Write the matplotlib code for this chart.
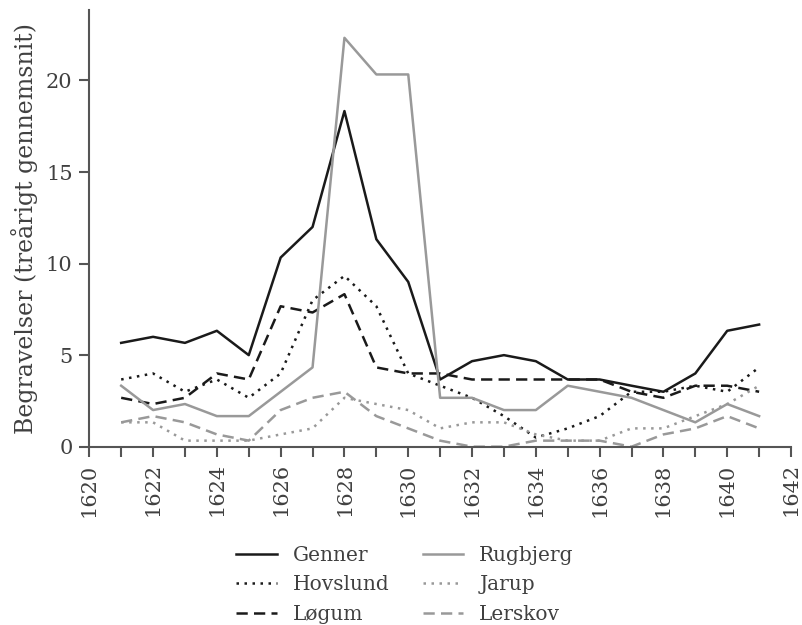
import matplotlib
matplotlib.use("Agg")
import matplotlib.pyplot as plt
from matplotlib.ticker import MultipleLocator

years = list(range(1621, 1642))
genner   = [5.67, 6.0, 5.67, 6.33, 5.0, 10.33, 12.0, 18.33, 11.33, 9.0, 3.67,
            4.67, 5.0, 4.67, 3.67, 3.67, 3.33, 3.0, 4.0, 6.33, 6.67]
hovslund = [3.67, 4.0, 3.0, 3.67, 2.67, 4.0, 8.0, 9.33, 7.67, 4.0, 3.33,
            2.67, 1.67, 0.5, 1.0, 1.67, 3.0, 3.0, 3.33, 3.0, 4.33]
logum    = [2.67, 2.33, 2.67, 4.0, 3.67, 7.67, 7.33, 8.33, 4.33, 4.0, 4.0,
            3.67, 3.67, 3.67, 3.67, 3.67, 3.0, 2.67, 3.33, 3.33, 3.0]
rugbjerg = [3.33, 2.0, 2.33, 1.67, 1.67, 3.0, 4.33, 22.33, 20.33, 20.33, 2.67,
            2.67, 2.0, 2.0, 3.33, 3.0, 2.67, 2.0, 1.33, 2.33, 1.67]
jarup    = [1.33, 1.33, 0.33, 0.33, 0.33, 0.67, 1.0, 2.67, 2.33, 2.0, 1.0,
            1.33, 1.33, 0.67, 0.33, 0.33, 1.0, 1.0, 1.67, 2.33, 3.33]
lerskov  = [1.33, 1.67, 1.33, 0.67, 0.33, 2.0, 2.67, 3.0, 1.67, 1.0, 0.33,
            0.0, 0.0, 0.33, 0.33, 0.33, 0.0, 0.67, 1.0, 1.67, 1.0]

labels = ["Genner", "Hovslund", "Løgum", "Rugbjerg", "Jarup", "Lerskov"]
series = [genner, hovslund, logum, rugbjerg, jarup, lerskov]

plt.rcParams['font.family'] = ['DejaVu Serif']
TXT = '#404040'
BLACK = '#1a1a1a'
GRAY = '#999999'
styles = [
    dict(color=BLACK, linestyle='-'),
    dict(color=BLACK, linestyle=(0, (1, 2.2))),
    dict(color=BLACK, linestyle=(0, (4.5, 2.5))),
    dict(color=GRAY, linestyle='-'),
    dict(color=GRAY, linestyle=(0, (1, 2.2))),
    dict(color=GRAY, linestyle=(0, (4.5, 2.5))),
]

fig = plt.figure(figsize=(8.02, 6.25), dpi=100)
ax = fig.add_axes([0.1113, 0.2853, 0.8750, 0.6987])

handles = []
for s, lab, st in zip(series, labels, styles):
    h, = ax.plot(years, s, lw=1.8, label=lab, **st)
    handles.append(h)

ax.set_xlim(1620, 1642)
ax.set_ylim(0, 23.85)
ax.xaxis.set_major_locator(MultipleLocator(2))
ax.xaxis.set_minor_locator(MultipleLocator(1))
ax.set_yticks([0, 5, 10, 15, 20])
for sp in ['top', 'right']:
    ax.spines[sp].set_visible(False)
for sp in ['left', 'bottom']:
    ax.spines[sp].set_color('#555555')
    ax.spines[sp].set_linewidth(1.5)
ax.tick_params(axis='both', which='both', direction='out', length=7,
               width=1.5, color='#555555', labelsize=15, labelcolor=TXT, pad=5)
ax.tick_params(axis='x', labelrotation=90)
ax.set_ylabel("Begravelser (treårigt gennemsnit)", fontsize=17, color=TXT, labelpad=6)

leg = fig.legend(handles=handles, loc='upper center', bbox_to_anchor=(0.505, 0.156),
                 ncol=2, frameon=False, fontsize=14.5, handlelength=2.0,
                 handletextpad=0.8, columnspacing=1.65, labelspacing=0.52)
for t in leg.get_texts():
    t.set_color(TXT)

fig.savefig("out.png", dpi=100)
